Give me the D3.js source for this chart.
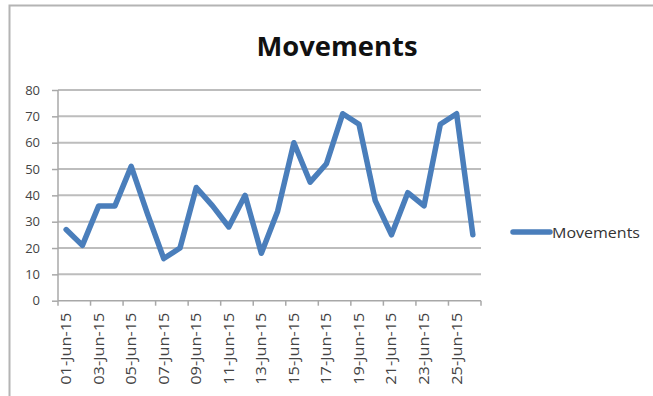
<!DOCTYPE html>
<html><head><meta charset="utf-8">
<script src="https://cdn.jsdelivr.net/npm/d3@7"></script>
<style>body{margin:0;background:#fff}svg{display:block}</style>
</head><body><svg id="c" width="653" height="396"></svg>
<script>
const dates = ["01-Jun-15","02-Jun-15","03-Jun-15","04-Jun-15","05-Jun-15","06-Jun-15","07-Jun-15","08-Jun-15","09-Jun-15","10-Jun-15","11-Jun-15","12-Jun-15","13-Jun-15","14-Jun-15","15-Jun-15","16-Jun-15","17-Jun-15","18-Jun-15","19-Jun-15","20-Jun-15","21-Jun-15","22-Jun-15","23-Jun-15","24-Jun-15","25-Jun-15","26-Jun-15"];
const movements = [27,21,36,36,51,33,16,20,43,36,28,40,18,34,60,45,52,71,67,38,25,41,36,67,71,25];
const yTicks = [0,10,20,30,40,50,60,70,80];
const seriesName = "Movements";
const title = "Movements";

const svg = d3.select("#c");
const x0 = 58, x1 = 481, yTop = 90, yBot = 300.7;
const x = d3.scaleBand().domain(dates).range([x0, x1]).padding(0);
const y = d3.scaleLinear().domain([0, 80]).range([yBot, yTop]);

// frame
svg.append("path").attr("d","M9.5,396 V5.5 H653").attr("fill","none").attr("stroke","#b4b4b4").attr("stroke-width",2);

// gridlines
svg.append("g").selectAll("line").data(yTicks.filter(d=>d>0)).join("line")
  .attr("x1", x0).attr("x2", x1).attr("y1", d=>y(d)).attr("y2", d=>y(d))
  .attr("stroke","#bdbdbd").attr("stroke-width",2);

// y axis
const ya = svg.append("g").attr("transform",`translate(${x0},0)`)
  .call(d3.axisLeft(y).tickValues(yTicks).tickSize(6).tickPadding(12).tickFormat(d3.format("d")));
ya.select(".domain").attr("stroke","#a8a8a8").attr("stroke-width",1.5).attr("d",`M0,${yTop}V${yBot}`);
ya.selectAll(".tick line").attr("stroke","#a8a8a8").attr("stroke-width",1.5);
ya.selectAll("text").attr("fill","#444").attr("font-family","'Open Sans', sans-serif").attr("font-size",13);

// x axis
const xa = svg.append("g").attr("transform",`translate(0,${yBot})`)
  .call(d3.axisBottom(x).tickValues(dates.filter((d,i)=>i%2===0)).tickSize(0).tickFormat(d=>d));
xa.select(".domain").attr("stroke","#a8a8a8").attr("stroke-width",1.5).attr("d",`M${x0},0H${x1}`);
xa.selectAll("text")
  .attr("transform","rotate(-90)")
  .attr("x",-12).attr("y",0).attr("dy","0.35em")
  .attr("text-anchor","end")
  .attr("fill","#444").attr("font-family","'Open Sans', sans-serif").attr("font-size",14)
  .attr("textLength",72).attr("lengthAdjust","spacingAndGlyphs");
// tick marks at category boundaries every 2 categories
const tickPos = dates.filter((d,i)=>i%2===0).map(d=>x(d)).concat([x1]);
svg.append("g").selectAll("line").data(tickPos).join("line")
  .attr("x1",d=>d).attr("x2",d=>d).attr("y1",yBot).attr("y2",yBot+5)
  .attr("stroke","#a8a8a8").attr("stroke-width",1.5);

// line
const line = d3.line().x((d,i)=>x(dates[i]) + x.bandwidth()/2).y(d=>y(d));
svg.append("path").datum(movements).attr("d",line)
  .attr("fill","none").attr("stroke","#4a7ebb").attr("stroke-width",5.5)
  .attr("stroke-linejoin","round").attr("stroke-linecap","round");

// title
svg.append("text").attr("x",337).attr("y",56).attr("text-anchor","middle")
  .attr("font-family","'Open Sans', sans-serif").attr("font-weight","bold").attr("font-size",27)
  .attr("fill","#111").attr("textLength",161).attr("lengthAdjust","spacingAndGlyphs").text(title);

// legend
svg.append("line").attr("x1",513).attr("x2",550).attr("y1",232).attr("y2",232)
  .attr("stroke","#4a7ebb").attr("stroke-width",5.5).attr("stroke-linecap","round");
svg.append("text").attr("x",552).attr("y",238).attr("font-family","'Open Sans', sans-serif")
  .attr("font-size",15).attr("fill","#333").attr("textLength",88).attr("lengthAdjust","spacingAndGlyphs").text(seriesName);
</script></body></html>
